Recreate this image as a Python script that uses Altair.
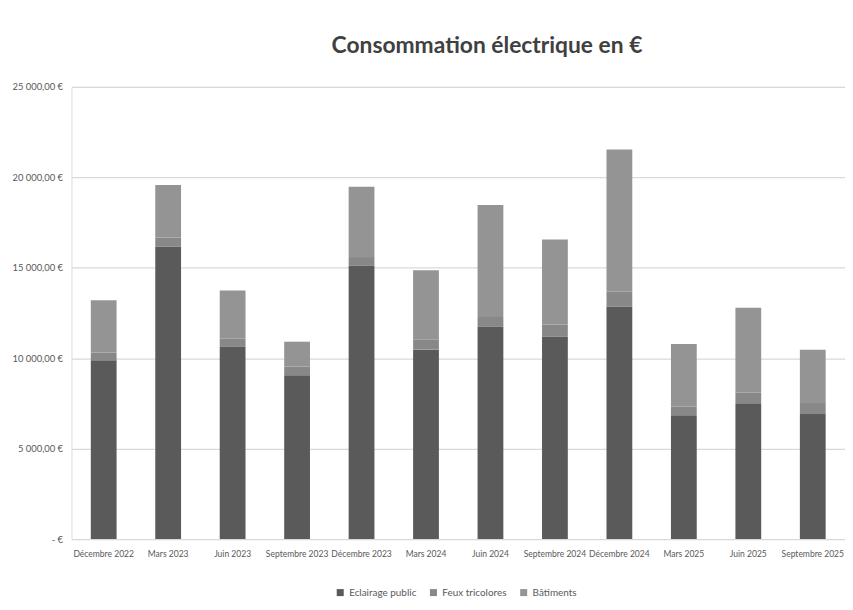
import altair as alt
import pandas as pd

categories = ["Décembre 2022", "Mars 2023", "Juin 2023", "Septembre 2023",
              "Décembre 2023", "Mars 2024", "Juin 2024", "Septembre 2024",
              "Décembre 2024", "Mars 2025", "Juin 2025", "Septembre 2025"]
series_names = ["Eclairage public", "Feux tricolores", "Bâtiments"]
eclairage = [9880, 16170, 10620, 9060, 15100, 10470, 11730, 11180, 12850, 6850, 7510, 6910]
feux = [440, 480, 450, 480, 490, 550, 550, 660, 820, 460, 600, 660]
batiments = [2880, 2920, 2670, 1370, 3890, 3840, 6180, 4720, 7860, 3470, 4680, 2900]
colors = ["#5a5a5a", "#888888", "#949494"]
y_ticks = [0, 5000, 10000, 15000, 20000, 25000]

rows = []
for i, c in enumerate(categories):
    for k, (name, vals) in enumerate(zip(series_names, [eclairage, feux, batiments])):
        rows.append({"mois": c, "serie": name, "valeur": vals[i], "ordre": k})
df = pd.DataFrame(rows)

FONT = "Lato"

chart = alt.Chart(df).mark_bar().encode(
    x=alt.X("mois:N", sort=categories, title=None,
            scale=alt.Scale(paddingInner=0.6, paddingOuter=0.3),
            axis=alt.Axis(labelAngle=0, labelOverlap=False, labelLimit=0,
                          ticks=False, domain=False, labelPadding=11,
                          labelFontSize=8.6, labelColor="#595959", labelFont=FONT)),
    y=alt.Y("valeur:Q", stack="zero", title=None,
            scale=alt.Scale(domain=[0, 25000], nice=False),
            axis=alt.Axis(values=y_ticks, ticks=False, domain=False, labelPadding=9,
                          labelFontSize=9.5, labelColor="#595959", labelFont=FONT,
                          gridColor="#d9d9d9", gridWidth=1.2,
                          labelExpr="datum.value == 0 ? '-   €' : replace(replace(format(datum.value, ',.2f'), ',', ' '), '.', ',') + ' €'")),
    color=alt.Color("serie:N", title=None,
                    scale=alt.Scale(domain=series_names, range=colors),
                    legend=alt.Legend(orient="none", direction="horizontal",
                                      legendX=266, legendY=505,
                                      symbolType="square", symbolSize=50,
                                      symbolStrokeWidth=0,
                                      labelFont=FONT, labelFontSize=10,
                                      labelColor="#595959", columnPadding=12)),
    order=alt.Order("ordre:Q", sort="ascending"),
).properties(
    width=780, height=456,
    autosize=alt.AutoSizeParams(type="none"),
    padding={"left": 64, "top": 77, "right": 0, "bottom": 61},
    title=alt.Title("Consommation électrique en €", font=FONT, fontSize=23,
                    fontWeight="bold", color="#404040", anchor="middle",
                    dx=29, offset=24),
).configure_view(stroke=None).configure(background="white")

chart.save("out.html", embed_options={"renderer": "svg", "actions": False})
